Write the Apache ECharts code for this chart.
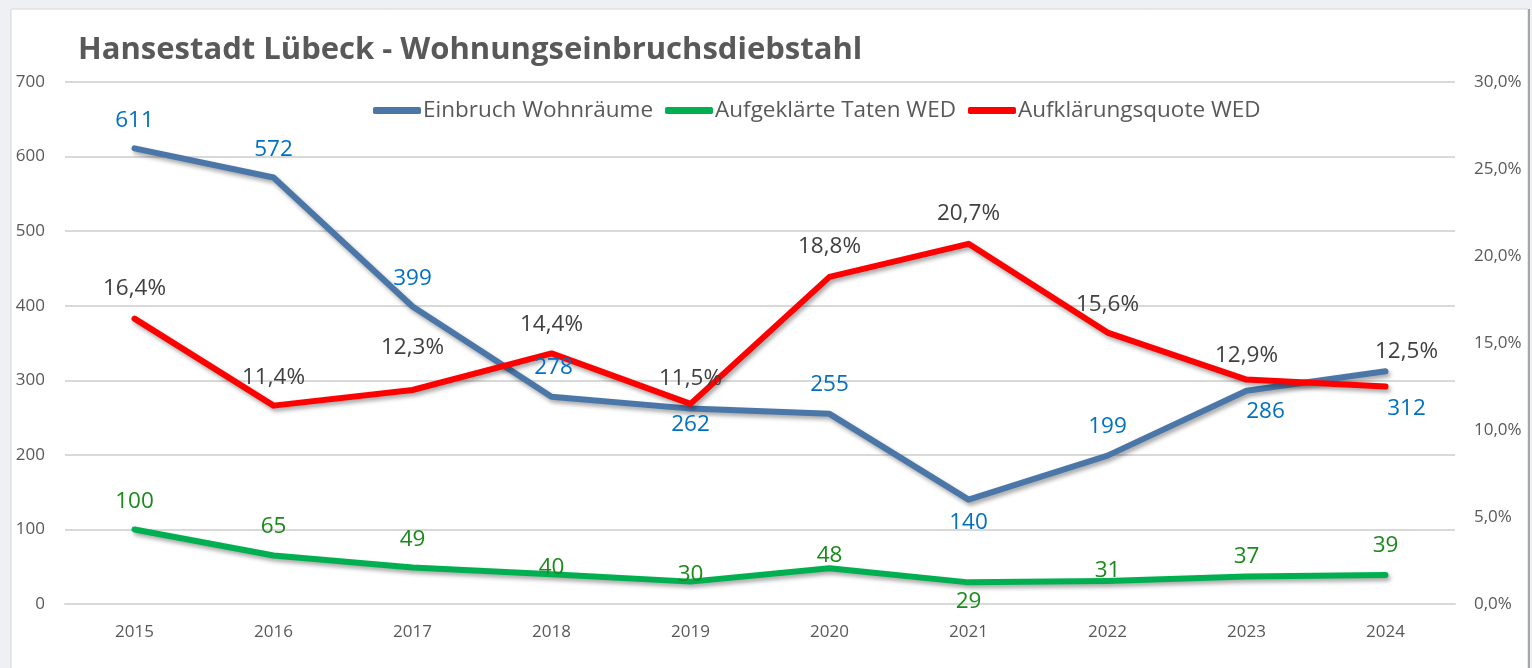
<!DOCTYPE html>
<html>
<head>
    <meta charset="utf-8">
    <title>Hansestadt Lübeck - Wohnungseinbruchsdiebstahl</title>
    <script src="https://cdn.jsdelivr.net/npm/echarts@6/dist/echarts.min.js"></script>
    <style>
        html, body { margin: 0; padding: 0; background: #eff0f4; }
        #main { width: 1532px; height: 668px; }
    </style>
</head>
<body>
<div id="main"></div>
<script type="text/javascript">
    // Daten
    var jahre = ['2015', '2016', '2017', '2018', '2019', '2020', '2021', '2022', '2023', '2024'];
    var einbruch = [611, 572, 399, 278, 262, 255, 140, 199, 286, 312];
    var aufgeklaert = [100, 65, 49, 40, 30, 48, 29, 31, 37, 39];
    var quote = [16.4, 11.4, 12.3, 14.4, 11.5, 18.8, 20.7, 15.6, 12.9, 12.5];
    var linksTicks = [0, 100, 200, 300, 400, 500, 600, 700];
    var rechtsTicks = [0, 5, 10, 15, 20, 25, 30];

    // Lage der Beschriftungen (Versatz zum Punkt)
    var einbruchLabelOffset = [[0, -28], [0, -28], [0, -28], [2, -29], [0, 16], [0, -29], [0, 23], [0, -29], [19, 21], [21, 37]];
    var aufgeklaertLabelOffset = [[0, -28], [0, -29], [0, -28], [0, -7], [0, -7], [0, -13], [0, 19], [0, -10], [0, -20], [0, -29]];
    var quoteLabelOffset = [[0, -30], [0, -28], [0, -42], [0, -29], [0, -25], [0, -30], [0, -30], [0, -28], [0, -24], [21, -35]];

    var schrift = '"Open Sans", "DejaVu Sans", sans-serif';
    var schatten = { shadowColor: 'rgba(0,0,0,0.35)', shadowBlur: 4, shadowOffsetX: 2, shadowOffsetY: 3 };

    function mitLabel(werte, offsets) {
        return werte.map(function (v, i) {
            return { value: v, label: { offset: offsets[i] } };
        });
    }

    function prozent(v) {
        return v.toFixed(1).replace('.', ',') + '%';
    }

    var myChart = echarts.init(document.getElementById('main'));

    var option = {
        backgroundColor: 'transparent',
        textStyle: { fontFamily: schrift },
        graphic: [
            { type: 'rect', z: -10, shape: { x: 11, y: 9, width: 1517, height: 680 },
              style: { fill: '#ffffff', stroke: '#d6d6d6', lineWidth: 1 } },
            { type: 'rect', z: -9, shape: { x: 1528, y: 9, width: 2, height: 680 },
              style: { fill: '#a6a6a6' } }
        ],
        title: {
            text: 'Hansestadt Lübeck - Wohnungseinbruchsdiebstahl',
            left: 73,
            top: 30,
            textStyle: { fontFamily: schrift, fontSize: 31, fontWeight: 'bold', color: '#595959' }
        },
        legend: {
            left: 368,
            top: 94,
            icon: 'roundRect',
            itemWidth: 48,
            itemHeight: 7,
            itemGap: 12,
            textStyle: { fontFamily: schrift, fontSize: 22.5, color: '#595959', padding: [0, 0, 0, -3] },
            data: ['Einbruch Wohnräume', 'Aufgeklärte Taten WED', 'Aufklärungsquote WED']
        },
        grid: { left: 65, right: 77, top: 82, bottom: 64 },
        xAxis: {
            type: 'category',
            data: jahre,
            boundaryGap: true,
            axisLine: { lineStyle: { color: '#d9d9d9', width: 2 } },
            axisTick: { show: false },
            axisLabel: { fontFamily: schrift, fontSize: 17, color: '#595959', margin: 20 }
        },
        yAxis: [
            {
                type: 'value',
                min: linksTicks[0],
                max: linksTicks[linksTicks.length - 1],
                interval: 100,
                axisLine: { show: false },
                axisTick: { show: false },
                splitLine: { lineStyle: { color: '#d9d9d9', width: 2 } },
                axisLabel: { fontFamily: schrift, fontSize: 17, color: '#595959', margin: 20 }
            },
            {
                type: 'value',
                min: rechtsTicks[0],
                max: rechtsTicks[rechtsTicks.length - 1],
                interval: 5,
                axisLine: { show: false },
                axisTick: { show: false },
                splitLine: { show: false },
                axisLabel: { fontFamily: schrift, fontSize: 17, color: '#595959', margin: 19, formatter: prozent }
            }
        ],
        series: [
            {
                name: 'Einbruch Wohnräume',
                type: 'line',
                yAxisIndex: 0,
                data: mitLabel(einbruch, einbruchLabelOffset),
                symbol: 'circle',
                symbolSize: 0.1,
                showSymbol: true,
                color: '#4a76a8',
                lineStyle: Object.assign({ width: 6, color: '#4a76a8', cap: 'round', join: 'round' }, schatten),
                label: { show: true, position: 'inside', fontFamily: schrift, fontSize: 22.5, color: '#0070c0' }
            },
            {
                name: 'Aufgeklärte Taten WED',
                type: 'line',
                yAxisIndex: 0,
                data: mitLabel(aufgeklaert, aufgeklaertLabelOffset),
                symbol: 'circle',
                symbolSize: 0.1,
                showSymbol: true,
                color: '#00b050',
                lineStyle: Object.assign({ width: 6, color: '#00b050', cap: 'round', join: 'round' }, schatten),
                label: { show: true, position: 'inside', fontFamily: schrift, fontSize: 22.5, color: '#1a8a1a' }
            },
            {
                name: 'Aufklärungsquote WED',
                type: 'line',
                yAxisIndex: 1,
                data: mitLabel(quote, quoteLabelOffset),
                symbol: 'circle',
                symbolSize: 0.1,
                showSymbol: true,
                color: '#ff0000',
                lineStyle: Object.assign({ width: 6, color: '#ff0000', cap: 'round', join: 'round' }, schatten),
                label: {
                    show: true, position: 'inside', fontFamily: schrift, fontSize: 22.5, color: '#404040',
                    formatter: function (p) { return prozent(p.value); }
                }
            }
        ]
    };

    myChart.setOption(option);
</script>
</body>
</html>
